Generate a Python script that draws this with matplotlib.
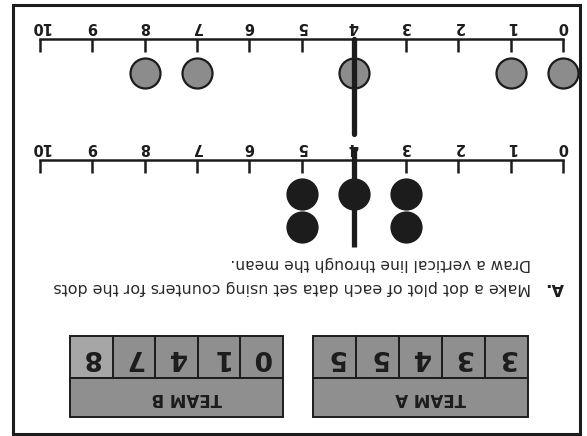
import numpy as np
import matplotlib
matplotlib.use("Agg")
import matplotlib.pyplot as plt
from matplotlib.patches import Rectangle

# data (the page is scanned upside down)
team_a = [3, 3, 4, 5, 5]
team_b = [0, 1, 4, 7, 8]
ticks = list(range(11))
title_a = "TEAM A"
title_b = "TEAM B"
task_head = "A."
task_text = "Make a dot plot of each data set using counters for the dots"
task_text2 = "Draw a vertical line through the mean."

W, H = 587, 436
X0, STEP = 563.0, 52.3   # pixel of 0 and pixel width of one unit
INK = "#1c1c1c"

fig = plt.figure(figsize=(W / 100, H / 100), dpi=100)
bg = fig.add_axes([0, 0, 1, 1])
bg.set_xlim(0, W)
bg.set_ylim(H, 0)
bg.axis("off")

# page frame
bg.add_patch(Rectangle((13, 5), 567, 429, fill=False, lw=2.2, ec=INK))


def number_line(line_y, values, face):
    left, right, depth = 20, 580, 100
    ax = fig.add_axes([left / W, 1 - (line_y + depth) / H, (right - left) / W, depth / H])
    ax.set_xlim((X0 - left) / STEP, (X0 - right) / STEP)
    ax.set_ylim(-depth, 0)
    ax.set_facecolor("none")
    for s in ["left", "right", "bottom"]:
        ax.spines[s].set_visible(False)
    ax.spines["top"].set_bounds(0, 10)
    ax.spines["top"].set_linewidth(1.8)
    ax.spines["top"].set_color(INK)
    ax.xaxis.tick_top()
    ax.set_xticks(ticks)
    ax.set_xticklabels([str(t) for t in ticks], rotation=180, fontweight="bold")
    ax.tick_params(axis="x", direction="in", length=9.4, width=1.8, pad=3.5,
                   labelsize=10.5, color=INK, labelcolor=INK)
    ax.set_yticks([])
    # stack the counters
    seen = {}
    xs, ys = [], []
    for v in values:
        k = seen.get(v, 0)
        seen[v] = k + 1
        xs.append(v)
        ys.append(-(34 + 33 * k))
    ax.scatter(xs, ys, s=21.6 ** 2, c=face, edgecolors=INK, linewidths=1.6,
               clip_on=False, zorder=3)
    return ax


top = number_line(39, team_b, "#8c8c8c")
bot = number_line(160, team_a, INK)

# mean line through both plots
lc = top.vlines(np.mean(team_b), -95, 0, colors=INK, lw=3.8, clip_on=False, zorder=4)
lc.set_capstyle("round")
lc = bot.vlines(np.mean(team_a), -87, 12, colors=INK, lw=3.8, clip_on=False, zorder=4)
lc.set_capstyle("butt")

# instructions (upside down)
bg.text(564, 287, task_head, rotation=180, ha="right", va="center",
        fontsize=11.5, fontweight="bold", color=INK)
bg.text(531, 287, task_text, rotation=180, ha="right", va="center",
        fontsize=11.4, color="#2a2a2a")
bg.text(531, 263, task_text2, rotation=180, ha="right", va="center",
        fontsize=11.2, color="#2a2a2a")


def data_table(x_left, x_right, values, title, light=None):
    top_y, mid_y, bot_y = 336, 378, 417
    w = (x_right - x_left) / len(values)
    for i, v in enumerate(values):
        x = x_right - (i + 1) * w
        fc = "#a6a6a6" if light == i else "#8f8f8f"
        bg.add_patch(Rectangle((x, top_y), w, mid_y - top_y, fc=fc, ec=INK, lw=1.4))
        bg.text(x + w / 2, (top_y + mid_y) / 2, str(v), rotation=180, ha="center",
                va="center", fontsize=19, fontweight="bold", color=INK)
    bg.add_patch(Rectangle((x_left, mid_y), x_right - x_left, bot_y - mid_y,
                           fc="#8f8f8f", ec=INK, lw=1.4))
    bg.text((x_left + x_right) / 2 + 10, (mid_y + bot_y) / 2, title, rotation=180,
            ha="center", va="center", fontsize=12, fontweight="bold", color=INK)


data_table(313, 528, team_a, title_a)
data_table(70, 283, team_b, title_b, light=4)

fig.savefig("out.png", dpi=100)
